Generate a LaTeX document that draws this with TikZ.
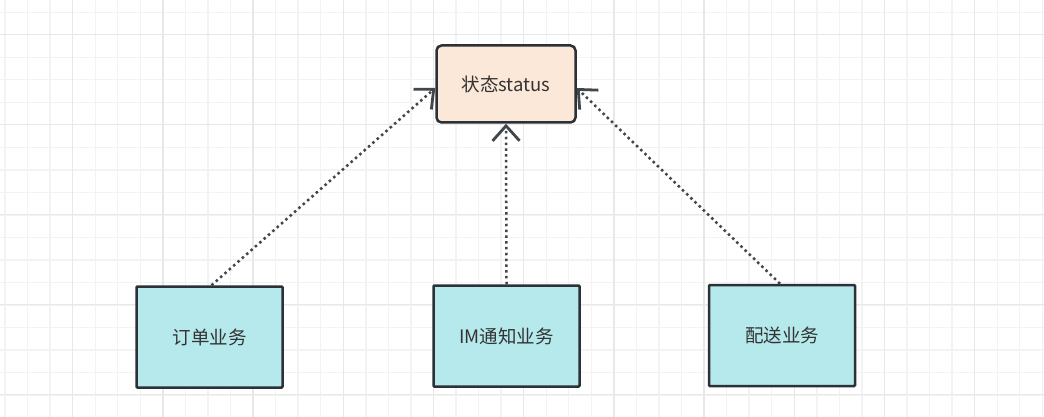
\documentclass[tikz,border=0pt]{standalone}
\usepackage{fontspec}
\usepackage{tikz}
\usetikzlibrary{arrows.meta,positioning,calc}
\setmainfont{Noto Sans CJK SC}
\definecolor{gridminor}{HTML}{F3F3F3}
\definecolor{gridmajor}{HTML}{E8E8E8}
\definecolor{boxline}{HTML}{2B3136}
\definecolor{boxteal}{HTML}{B5E9EB}
\definecolor{boxpeach}{HTML}{FCE8D9}
\definecolor{textgray}{HTML}{333333}

\tikzset{
  svcbox/.style={draw=boxline, line width=2.5pt, fill=boxteal, rounded corners=1pt,
    minimum width=146pt, minimum height=101pt, inner sep=0pt,
    text=textgray, font=\fontsize{18.5}{20}\selectfont},
  statebox/.style={svcbox, fill=boxpeach, rounded corners=5pt,
    minimum width=139pt, minimum height=77pt},
  depends/.style={draw=boxline!90, line width=2.5pt, dash pattern=on 2.5pt off 3.3pt,
    -{Straight Barb[length=15pt,width=27pt,line width=2.8pt]}}
}

\begin{document}
\begin{tikzpicture}[x=1pt,y=-1pt]
  \useasboundingbox (0,0) rectangle (1044,417);
  \fill[white] (0,0) rectangle (1044,417);

  % background grid
  \foreach \k in {0,...,46} \draw[gridminor, line width=1.4pt] ({5+22.55*\k},0) -- ({5+22.55*\k},417);
  \foreach \k in {0,...,18} \draw[gridminor, line width=1.4pt] (0,{12.3+22.5*\k}) -- (1044,{12.3+22.5*\k});
  \foreach \k in {0,...,10} \draw[gridmajor, line width=1.4pt] ({72.7+90.2*\k},0) -- ({72.7+90.2*\k},417);
  \foreach \k in {0,...,4} \draw[gridmajor, line width=1.4pt] (0,{34.7+90*\k}) -- (1044,{34.7+90*\k});

  \node[statebox] (status) at (506,84) {状态status};

  \node[svcbox] (order) at (209.5,337) {订单业务};
  \node[svcbox] (im) at (506.5,336) {IM通知业务};
  \node[svcbox] (delivery) at (782,335.5) {配送业务};

  \draw[depends] ([xshift=2pt]order.north) -- ([yshift=-4pt]status.west);
  \draw[depends] (im.north) -- (status.south);
  \draw[depends] ([xshift=-2pt]delivery.north) -- ([yshift=-4pt]status.east);
\end{tikzpicture}
\end{document}
